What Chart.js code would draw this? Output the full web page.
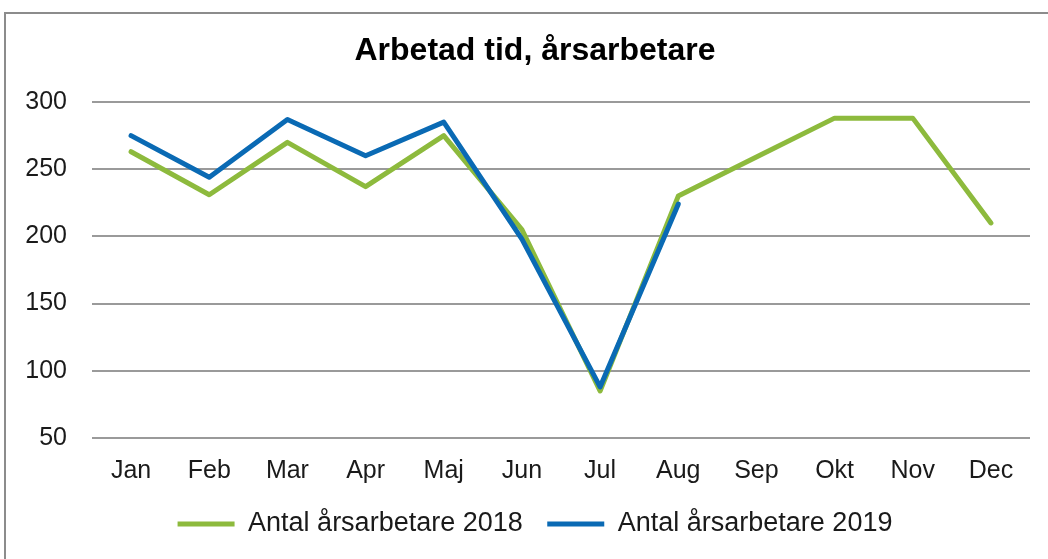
<!DOCTYPE html>
<html>
<head>
<meta charset="utf-8">
<script src="https://cdn.jsdelivr.net/npm/chart.js@4/dist/chart.umd.min.js"></script>
<style>
  html, body { margin: 0; padding: 0; background: #fff; }
  #wrap { position: relative; width: 1048px; height: 559px; overflow: hidden; }
  #frame { position: absolute; left: 4px; top: 12px; width: 1100px; height: 600px;
           border-left: 2px solid #8c8c8c; border-top: 2px solid #8c8c8c; }
  canvas { position: absolute; left: 0; top: 0; }
</style>
</head>
<body>
<div id="wrap">
  <div id="frame"></div>
  <canvas id="chart" width="1048" height="559"></canvas>
</div>
<script>
// ── data ──────────────────────────────────
var months = ['Jan', 'Feb', 'Mar', 'Apr', 'Maj', 'Jun', 'Jul', 'Aug', 'Sep', 'Okt', 'Nov', 'Dec'];
var values2018 = [263, 231, 270, 237, 275, 205, 85, 230, 259, 288, 288, 210];
var values2019 = [275, 244, 287, 260, 285, 198, 88, 224, null, null, null, null];
var yTicks = [50, 100, 150, 200, 250, 300];

var GREEN = '#8dba3d';
var BLUE  = '#0a6ab4';
var FONT  = "'Liberation Sans', Arial, sans-serif";

new Chart(document.getElementById('chart').getContext('2d'), {
  type: 'line',
  data: {
    labels: months,
    datasets: [
      { label: 'Antal årsarbetare 2018', data: values2018, borderColor: GREEN, backgroundColor: GREEN,
        borderWidth: 5, pointRadius: 0, borderJoinStyle: 'round', borderCapStyle: 'round', order: 2 },
      { label: 'Antal årsarbetare 2019', data: values2019, borderColor: BLUE, backgroundColor: BLUE,
        borderWidth: 5, pointRadius: 0, borderJoinStyle: 'round', borderCapStyle: 'round', order: 1 },
    ],
  },
  options: {
    responsive: false,
    animation: false,
    devicePixelRatio: 1,
    layout: { padding: { left: 25, right: 3, top: 0, bottom: 11.5 } },
    plugins: {
      title: {
        display: true,
        text: 'Arbetad tid, årsarbetare',
        color: '#000',
        font: { family: FONT, size: 32, weight: 'bold' },
        padding: { top: 32, bottom: 31.6 },
      },
      legend: {
        position: 'bottom',
        labels: {
          usePointStyle: true,
          pointStyle: 'line',
          pointStyleWidth: 57,
          padding: 24.5,
          color: '#1a1a1a',
          font: { family: FONT, size: 27 },
          sort: function (a, b) { return a.datasetIndex - b.datasetIndex; },
        },
      },
      tooltip: { enabled: false },
    },
    scales: {
      x: {
        offset: true,
        grid: { display: false, drawTicks: false },
        border: { display: false },
        ticks: { color: '#1a1a1a', font: { family: FONT, size: 25 }, padding: 18, maxRotation: 0 },
        afterFit: function (s) { s.height = 48; },
      },
      y: {
        min: 50,
        max: 300,
        afterBuildTicks: function (s) { s.ticks = yTicks.map(function (v) { return { value: v }; }); },
        grid: { color: '#9a9a9a', lineWidth: 2, drawTicks: false },
        border: { display: false },
        ticks: { color: '#1a1a1a', font: { family: FONT, size: 25 }, padding: 25 },
        afterFit: function (s) { s.width = 67; },
      },
      // empty right-hand axis, only keeps the plot edge at the right place
      yRight: {
        position: 'right',
        grid: { display: false },
        border: { display: false },
        ticks: { display: false },
        afterFit: function (s) { s.width = 15; },
      },
    },
  },
});
</script>
</body>
</html>
